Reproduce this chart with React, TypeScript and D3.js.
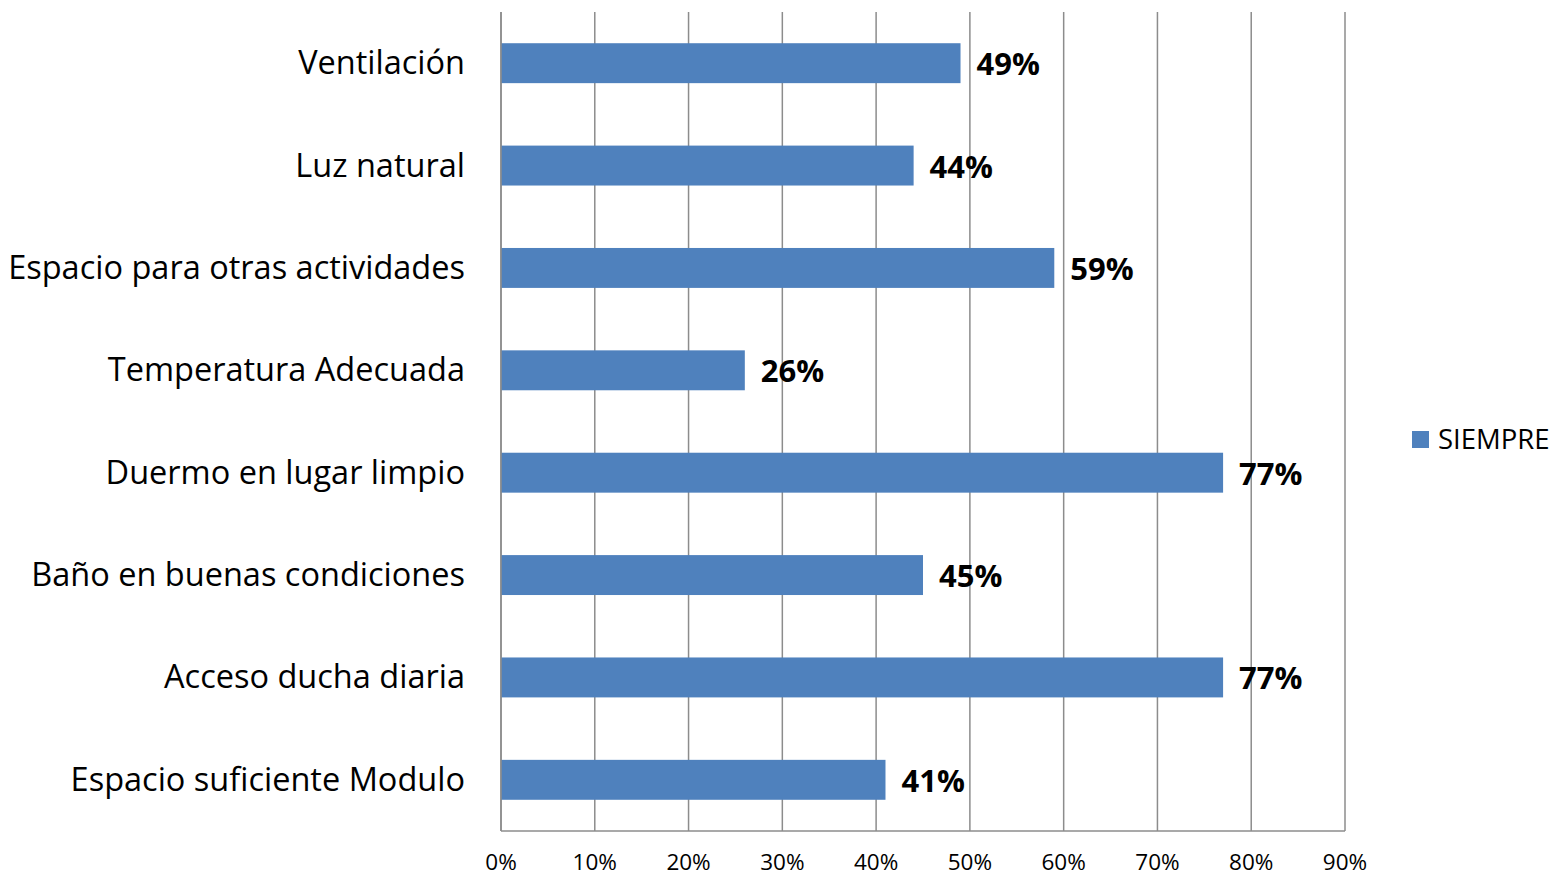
import React from "react";
import * as d3 from "d3";

const categories = [
  "Ventilación",
  "Luz natural",
  "Espacio para otras actividades",
  "Temperatura Adecuada",
  "Duermo en lugar limpio",
  "Baño en buenas condiciones",
  "Acceso ducha diaria",
  "Espacio suficiente Modulo",
];
const values = [0.49, 0.44, 0.59, 0.26, 0.77, 0.45, 0.77, 0.41];
const ticks = [0, 0.1, 0.2, 0.3, 0.4, 0.5, 0.6, 0.7, 0.8, 0.9];
const seriesName = "SIEMPRE";

const W = 1555, H = 877;
const left = 501, right = 1345, top = 12, bottom = 831;
const color = "#4F81BD";
const font = "'Open Sans', sans-serif";

export default function App() {
  const x = d3.scaleLinear().domain([0, 0.9]).range([left, right]);
  const y = d3.scaleBand().domain(categories).range([top, bottom]).paddingInner(0.61).paddingOuter(0.305);
  const fmt = d3.format(".0%");
  return (
    <svg width={W} height={H} style={{ position: "absolute", left: 0, top: 0 }}>
      <rect width={W} height={H} fill="#fff" />
      {ticks.map((t) => (
        <line key={t} x1={x(t)} x2={x(t)} y1={top} y2={bottom} stroke="#8c8c8c" strokeWidth={1.5} />
      ))}
      <line x1={left} x2={right} y1={bottom} y2={bottom} stroke="#8c8c8c" strokeWidth={1.5} />
      {categories.map((c, i) => (
        <g key={c}>
          <rect x={x(0)} y={y(c)!} width={x(values[i]) - x(0)} height={y.bandwidth()} fill={color} />
          <text x={x(values[i]) + 16} y={y(c)! + y.bandwidth() / 2 + 12} fontFamily={font} fontWeight="bold" fontSize={31} fill="#000">
            {fmt(values[i])}
          </text>
          <text x={465} y={y(c)! + y.bandwidth() / 2 + 11} textAnchor="end" fontFamily={font} fontSize={32.5} fill="#000">
            {c}
          </text>
        </g>
      ))}
      <line x1={left} x2={left} y1={top} y2={bottom} stroke="#8c8c8c" strokeWidth={1.5} />
      {ticks.map((t) => (
        <text key={"l" + t} x={x(t)} y={870} textAnchor="middle" fontFamily={font} fontSize={22.5} fill="#000">
          {fmt(t)}
        </text>
      ))}
      <rect x={1412} y={431} width={17} height={17} fill={color} />
      <text x={1438} y={449} fontFamily={font} fontSize={27.5} fill="#000">{seriesName}</text>
    </svg>
  );
}
